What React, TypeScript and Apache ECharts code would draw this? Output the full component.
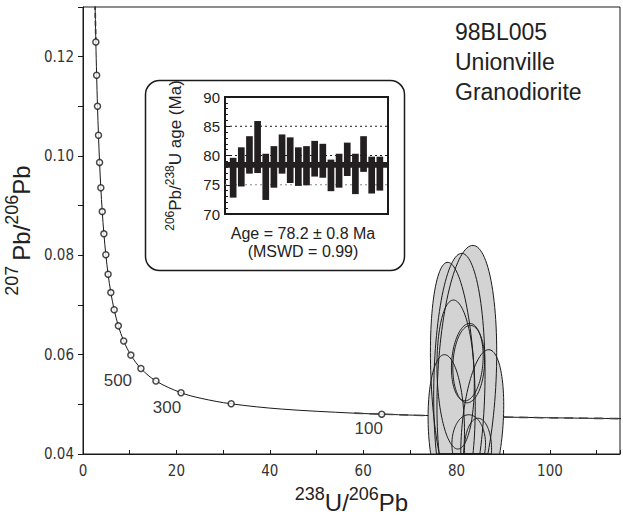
import React, { useEffect, useRef } from "react";
import * as echarts from "echarts";

// ---- Concordia (Tera-Wasserburg) curve ----
const concordiaX = [128.4, 116.7, 106.94, 91.59, 80.08, 71.13, 63.97, 58.1, 42.48, 31.73, 25.29, 20.99, 15.62, 12.4, 10.25, 8.718, 7.568, 6.674, 5.959, 5.375, 4.888, 4.476, 4.123, 3.817, 3.55, 3.314, 3.104, 2.917, 2.749, 2.597];
const concordiaY = [0.04701, 0.04711, 0.04721, 0.04741, 0.04761, 0.04781, 0.04802, 0.04822, 0.04905, 0.05011, 0.05121, 0.05234, 0.0547, 0.05722, 0.05991, 0.06276, 0.0658, 0.06904, 0.0725, 0.07619, 0.08013, 0.08433, 0.08881, 0.0936, 0.09871, 0.10418, 0.11002, 0.11627, 0.12296, 0.13014];

// age markers every 100 Ma (100 ... 2000 Ma)
const markerX = [63.97, 31.73, 20.99, 15.62, 12.4, 10.25, 8.718, 7.568, 6.674, 5.959, 5.375, 4.888, 4.476, 4.123, 3.817, 3.55, 3.314, 3.104, 2.917, 2.749];
const markerY = [0.04802, 0.05011, 0.05234, 0.0547, 0.05722, 0.05991, 0.06276, 0.0658, 0.06904, 0.0725, 0.07619, 0.08013, 0.08433, 0.08881, 0.0936, 0.09871, 0.10418, 0.11002, 0.11627, 0.12296];

const ageLabels = ["500", "300", "100"];
const ageLabelX = [12.4, 20.99, 63.97];
const ageLabelY = [0.05722, 0.05234, 0.04802];

// dashed envelope segments
const envTopX = [2.749, 2.597];
const envTopY = [0.12296, 0.13014];
const envRightX = [58.1, 63.97, 71.13, 80.08, 91.59, 106.94, 116.7];
const envRightY = [0.04822, 0.04802, 0.04781, 0.04761, 0.04741, 0.04721, 0.04711];

// error ellipses: centre x, half-width x, centre y, half-height y, correlation
const ellCx = [82.2, 80.6, 79.2, 85.5, 77.8, 79.8, 82.6, 82.3, 82.6, 84.6];
const ellA = [6.4, 5.5, 4.8, 4.6, 3.9, 4.0, 3.4, 3.4, 3.6, 2.9];
const ellCy = [0.055, 0.054, 0.055, 0.045, 0.046, 0.056, 0.0581, 0.0585, 0.042, 0.041];
const ellB = [0.027, 0.0264, 0.0236, 0.016, 0.014, 0.015, 0.0078, 0.0078, 0.0059, 0.0062];
const ellRho = [0.2, 0.09, -0.23, 0.3, -0.1, -0.12, 0.1, 0.15, 0, 0];

// inset: 206Pb/238U ages (Ma), error bar ranges
const insetIdx = [1, 2, 3, 4, 5, 6, 7, 8, 9, 10, 11, 12, 13, 14, 15, 16, 17, 18, 19];
const insetLow = [72.8, 74.7, 76.9, 77.0, 72.4, 74.5, 76.9, 75.3, 74.8, 74.9, 76.4, 76.2, 73.9, 74.5, 76.5, 73.4, 77.2, 73.5, 74.0];
const insetHigh = [79.6, 81.4, 83.3, 85.9, 80.3, 81.6, 83.6, 83.1, 81.4, 81.6, 82.5, 82.0, 79.3, 80.3, 82.2, 80.3, 83.3, 79.8, 79.8];
const insetRefLines = [85, 80, 75];
const insetRefColors = ["#1a1a1a", "#1a1a1a", "#8a8a8a"];
const meanBand = [77.9, 78.9];

const FONT = '"Liberation Sans", Arial, Helvetica, sans-serif';
const NARROW = '"Liberation Sans Narrow", "Arial Narrow", "DejaVu Sans Condensed", sans-serif';
const INK = "#1a1a1a";

function clipBelow(pts: number[][], bottom: number): number[][] {
  const out: number[][] = [];
  const n = pts.length;
  for (let i = 0; i < n; i++) {
    const cur = pts[i];
    const prev = pts[(i + n - 1) % n];
    const curIn = cur[1] <= bottom;
    const prevIn = prev[1] <= bottom;
    if (curIn !== prevIn) {
      const t = (bottom - prev[1]) / (cur[1] - prev[1]);
      out.push([prev[0] + t * (cur[0] - prev[0]), bottom]);
    }
    if (curIn) out.push(cur);
  }
  return out;
}

function ellipseRenderer(fillMode: boolean) {
  return (params: any, api: any) => {
    const cx = api.value(0);
    const a = api.value(1);
    const cy = api.value(2);
    const b = api.value(3);
    const rho = api.value(4);
    const s = Math.sqrt(1 - rho * rho);
    const pts: number[][] = [];
    const N = 120;
    for (let k = 0; k < N; k++) {
      const t = (2 * Math.PI * k) / N;
      pts.push(api.coord([cx + a * Math.cos(t), cy + b * (rho * Math.cos(t) + s * Math.sin(t))]));
    }
    const cs = params.coordSys;
    const clipped = clipBelow(pts, cs.y + cs.height);
    return {
      type: "polygon",
      shape: { points: clipped },
      style: fillMode
        ? { fill: "#d3d3d3", stroke: null }
        : { fill: "none", stroke: INK, lineWidth: 1 },
    };
  };
}

const titleRich = {
  sup: { fontSize: 18, fontFamily: FONT, color: "#222", verticalAlign: "top", lineHeight: 30 },
  m: { fontSize: 24, fontFamily: FONT, color: "#222", verticalAlign: "bottom", lineHeight: 30, padding: [8, 0, 0, 0] },
};

export default function App() {
  const ref = useRef<HTMLDivElement>(null);
  useEffect(() => {
    document.body.style.margin = "0";
    const chart = echarts.init(ref.current!, null, { renderer: "svg" });

    const concordia = concordiaX.map((x, i) => [x, concordiaY[i]]);
    const markers = markerX.map((x, i) => [x, markerY[i]]);
    const labelPts = ageLabelX.map((x, i) => ({ value: [x, ageLabelY[i]], name: ageLabels[i] }));
    const labelOffsets = [[-23, 12], [-14, 15], [-13, 14]];
    const ellipses = ellCx.map((cx, i) => [cx, ellA[i], ellCy[i], ellB[i], ellRho[i]]);
    const bars = insetIdx.map((x, i) => [x, insetLow[i], insetHigh[i]]);

    const option: any = {
      animation: false,
      textStyle: { fontFamily: FONT },
      grid: [
        { left: 83, right: 3, top: 7, bottom: 63, show: true, borderColor: INK, borderWidth: 1, containLabel: false, outerBoundsMode: "none" },
        { left: 225, top: 97, width: 163, height: 117, show: true, borderColor: INK, borderWidth: 2, containLabel: false, outerBoundsMode: "none" },
      ],
      xAxis: [
        {
          type: "value", gridIndex: 0, min: 0, max: 115, interval: 20,
          axisLine: { lineStyle: { color: INK, width: 1 } },
          axisTick: { inside: true, length: 4, lineStyle: { color: INK } },
          minorTick: { show: true, splitNumber: 2, length: 4, lineStyle: { color: INK } },
          splitLine: { show: false },
          axisLabel: { color: "#333", fontSize: 15, fontFamily: NARROW, margin: 9, showMaxLabel: false },
          name: "{sup|238}{m|U/}{sup|206}{m|Pb}",
          nameLocation: "middle",
          nameGap: 27,
          nameTextStyle: { color: "#222", rich: titleRich },
        },
        {
          type: "value", gridIndex: 1, min: 0, max: 20,
          axisLine: { show: false }, axisTick: { show: false }, axisLabel: { show: false }, splitLine: { show: false },
        },
      ],
      yAxis: [
        {
          type: "value", gridIndex: 0, min: 0.04, max: 0.13, interval: 0.02,
          axisLine: { lineStyle: { color: INK, width: 1 } },
          axisTick: { inside: false, length: 5, lineStyle: { color: INK } },
          minorTick: { show: true, splitNumber: 2, length: 5, lineStyle: { color: INK } },
          splitLine: { show: false },
          axisLabel: { color: "#333", fontSize: 15, fontFamily: NARROW, margin: 9, showMaxLabel: false, formatter: (v: number) => v.toFixed(2) },
          name: "{sup|207 }{m|Pb/}{sup|206}{m|Pb}",
          nameLocation: "middle",
          nameGap: 43,
          nameTextStyle: { color: "#222", rich: titleRich },
        },
        {
          type: "value", gridIndex: 1, min: 70, max: 90, interval: 5,
          axisLine: { show: false },
          axisTick: { inside: true, length: 5, lineStyle: { color: INK } },
          minorTick: { show: true, splitNumber: 5, length: 3, lineStyle: { color: INK } },
          splitLine: { show: false },
          axisLabel: { color: "#222", fontSize: 15, fontFamily: FONT, margin: 5 },
          name: "{sup|206}{m|Pb/}{sup|238}{m|U age (Ma)}",
          nameLocation: "middle",
          nameGap: 41,
          nameTextStyle: {
            color: "#222",
            rich: {
              sup: { fontSize: 12, fontFamily: FONT, color: "#222", verticalAlign: "top", lineHeight: 20 },
              m: { fontSize: 17, fontFamily: FONT, color: "#222", verticalAlign: "bottom", lineHeight: 20, padding: [4, 0, 0, 0] },
            },
          },
        },
      ],
      graphic: [
        { type: "rect", left: 143, top: 78, shape: { width: 259, height: 190, r: 14 }, style: { fill: "none", stroke: INK, lineWidth: 1.5 }, silent: true },
        { type: "text", x: 303, y: 233, style: { text: "Age = 78.2 ± 0.8 Ma", fill: "#222", font: `16px ${FONT}`, textAlign: "center", textVerticalAlign: "middle" } },
        { type: "text", x: 303, y: 251, style: { text: "(MSWD = 0.99)", fill: "#222", font: `16px ${FONT}`, textAlign: "center", textVerticalAlign: "middle" } },
        { type: "text", x: 455, y: 17, style: { text: "98BL005\nUnionville\nGranodiorite", fill: "#222", font: `23px ${FONT}`, lineHeight: 30, textAlign: "left", textVerticalAlign: "top" } },
      ],
      series: [
        {
          type: "line", xAxisIndex: 0, yAxisIndex: 0, data: concordia, showSymbol: false, smooth: 0.35, z: 1,
          lineStyle: { color: INK, width: 1 }, clip: true,
        },
        {
          type: "line", xAxisIndex: 0, yAxisIndex: 0, data: envTopX.map((x, i) => [x, envTopY[i]]), showSymbol: false, z: 1,
          lineStyle: { color: "#333", width: 1.6, type: [5, 3] }, clip: true,
        },
        {
          type: "line", xAxisIndex: 0, yAxisIndex: 0, data: envRightX.map((x, i) => [x, envRightY[i]]), showSymbol: false, smooth: 0.35, z: 1,
          lineStyle: { color: "#444", width: 1.6, type: [9, 6] }, clip: true,
        },
        {
          type: "custom", xAxisIndex: 0, yAxisIndex: 0, data: ellipses, encode: { x: 0, y: 2 }, z: 4,
          renderItem: ellipseRenderer(true),
        },
        {
          type: "custom", xAxisIndex: 0, yAxisIndex: 0, data: ellipses, encode: { x: 0, y: 2 }, z: 5,
          renderItem: ellipseRenderer(false),
        },
        {
          type: "scatter", xAxisIndex: 0, yAxisIndex: 0, data: markers, symbol: "circle", symbolSize: 6, z: 6,
          itemStyle: { color: "#fff", borderColor: INK, borderWidth: 1.5 },
        },
        {
          type: "scatter", xAxisIndex: 0, yAxisIndex: 0, symbolSize: 0, z: 6,
          data: labelPts.map((p, i) => ({
            ...p,
            label: { show: true, position: "inside", offset: labelOffsets[i], formatter: "{b}", color: "#000", fontSize: 17, fontFamily: FONT },
          })),
        },
        // inset reference lines
        {
          type: "custom", xAxisIndex: 1, yAxisIndex: 1, z: 3,
          data: insetRefLines.map((v, i) => [0, v, i]), encode: { x: 0, y: 1 },
          renderItem: (params: any, api: any) => {
            const v = api.value(1);
            const p1 = api.coord([0, v]);
            const p2 = api.coord([20, v]);
            return {
              type: "line",
              shape: { x1: p1[0], y1: p1[1], x2: p2[0], y2: p2[1] },
              style: { stroke: insetRefColors[api.value(2)], lineWidth: 1, lineDash: [2, 3] },
            };
          },
        },
        // inset error bars
        {
          type: "custom", xAxisIndex: 1, yAxisIndex: 1, z: 4,
          data: bars, encode: { x: 0, y: [1, 2] },
          renderItem: (params: any, api: any) => {
            const top = api.coord([api.value(0), api.value(2)]);
            const bot = api.coord([api.value(0), api.value(1)]);
            const w = api.size([1, 0])[0] * 0.82;
            return { type: "rect", shape: { x: top[0] - w / 2, y: top[1], width: w, height: bot[1] - top[1] }, style: { fill: "#231f20" } };
          },
        },
        // inset weighted mean band
        {
          type: "custom", xAxisIndex: 1, yAxisIndex: 1, z: 5,
          data: [[0, meanBand[0], meanBand[1]]], encode: { x: 0, y: [1, 2] },
          renderItem: (params: any, api: any) => {
            const tl = api.coord([0, api.value(2)]);
            const br = api.coord([20, api.value(1)]);
            return { type: "rect", shape: { x: tl[0], y: tl[1], width: br[0] - tl[0], height: br[1] - tl[1] }, style: { fill: "#231f20" } };
          },
        },
      ],
    };
    chart.setOption(option);
    return () => chart.dispose();
  }, []);
  return <div ref={ref} style={{ width: 623, height: 517 }} />;
}
